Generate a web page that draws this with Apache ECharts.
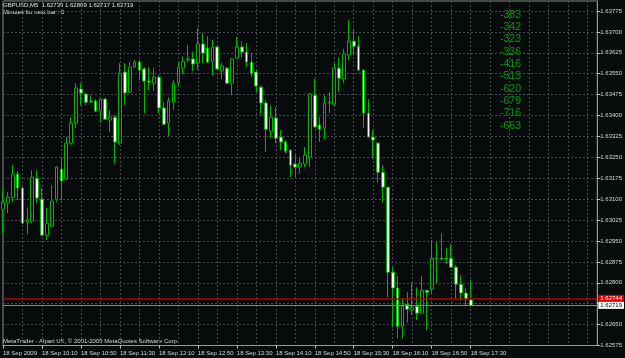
<!DOCTYPE html>
<html><head><meta charset="utf-8">
<script src="https://cdn.jsdelivr.net/npm/echarts@6/dist/echarts.min.js"></script>
<style>html,body{margin:0;padding:0;background:#070b0b}#c{width:625px;height:358px}</style>
</head><body><div id="c"></div>
<script>
const symbol = 'GBPUSD', timeframe = 'M5';
const times = ['09:30','09:35','09:40','09:45','09:50','09:55',
'10:00','10:05','10:10','10:15','10:20','10:25','10:30','10:35','10:40','10:45','10:50','10:55',
'11:00','11:05','11:10','11:15','11:20','11:25','11:30','11:35','11:40','11:45','11:50','11:55',
'12:00','12:05','12:10','12:15','12:20','12:25','12:30','12:35','12:40','12:45','12:50','12:55',
'13:00','13:05','13:10','13:15','13:20','13:25','13:30','13:35','13:40','13:45','13:50','13:55',
'14:00','14:05','14:10','14:15','14:20','14:25','14:30','14:35','14:40','14:45','14:50','14:55',
'15:00','15:05','15:10','15:15','15:20','15:25','15:30','15:35','15:40','15:45','15:50','15:55',
'16:00','16:05','16:10','16:15','16:20','16:25','16:30','16:35','16:40','16:45','16:50','16:55',
'17:00','17:05','17:10','17:15','17:20','17:25','17:30'];
const opens = [1.63064,1.63086,1.63107,1.63190,1.63140,1.63017,1.63021,1.63175,1.63100,1.62971,
1.63003,1.63100,1.63208,1.63172,1.63301,1.63373,1.63495,1.63477,1.63452,1.63452,
1.63416,1.63459,1.63384,1.63394,1.63301,1.63556,1.63484,1.63574,1.63592,1.63567,
1.63524,1.63516,1.63538,1.63427,1.63373,1.63448,1.63516,1.63570,1.63599,1.63603,
1.63588,1.63657,1.63642,1.63592,1.63646,1.63560,1.63570,1.63516,1.63606,1.63646,
1.63628,1.63592,1.63556,1.63502,1.63445,1.63344,1.63391,1.63323,1.63305,1.63276,
1.63226,1.63215,1.63226,1.63251,1.63473,1.63366,1.63355,1.63445,1.63441,1.63570,
1.63531,1.63617,1.63667,1.63649,1.63563,1.63409,1.63323,1.63301,1.63197,1.63143,
1.62838,1.62781,1.62644,1.62723,1.62702,1.62716,1.62691,1.62773,1.62777,1.62888,
1.62888,1.62888,1.62888,1.62856,1.62795,1.62763,1.62739];
const highs = [1.63132,1.63125,1.63222,1.63201,1.63143,1.63071,1.63204,1.63204,1.63140,1.63068,
1.63150,1.63219,1.63251,1.63323,1.63394,1.63516,1.63516,1.63481,1.63473,1.63459,
1.63463,1.63463,1.63420,1.63402,1.63588,1.63588,1.63592,1.63599,1.63599,1.63574,
1.63574,1.63570,1.63545,1.63448,1.63466,1.63527,1.63592,1.63613,1.63653,1.63628,
1.63714,1.63696,1.63685,1.63671,1.63653,1.63588,1.63574,1.63606,1.63682,1.63667,
1.63660,1.63624,1.63563,1.63506,1.63455,1.63437,1.63430,1.63348,1.63312,1.63280,
1.63258,1.63247,1.63287,1.63481,1.63531,1.63394,1.63473,1.63484,1.63588,1.63610,
1.63639,1.63743,1.63710,1.63685,1.63563,1.63459,1.63348,1.63305,1.63222,1.63143,
1.62856,1.62824,1.62745,1.62766,1.62802,1.62784,1.62824,1.62773,1.62953,1.62946,
1.62978,1.62924,1.62938,1.62863,1.62827,1.62781,1.62809];
const lows = [1.62978,1.63050,1.63089,1.63096,1.63010,1.62974,1.63014,1.63086,1.62971,1.62953,
1.63000,1.63089,1.63096,1.63168,1.63294,1.63355,1.63437,1.63437,1.63445,1.63412,
1.63376,1.63384,1.63341,1.63229,1.63294,1.63437,1.63481,1.63570,1.63527,1.63409,
1.63491,1.63488,1.63409,1.63366,1.63326,1.63420,1.63502,1.63549,1.63592,1.63560,
1.63563,1.63588,1.63588,1.63545,1.63563,1.63531,1.63513,1.63473,1.63603,1.63610,
1.63574,1.63538,1.63484,1.63405,1.63269,1.63319,1.63301,1.63276,1.63265,1.63179,
1.63179,1.63193,1.63215,1.63215,1.63355,1.63305,1.63315,1.63409,1.63434,1.63484,
1.63516,1.63599,1.63617,1.63560,1.63355,1.63319,1.63247,1.63161,1.63089,1.62748,
1.62641,1.62601,1.62601,1.62658,1.62684,1.62666,1.62691,1.62630,1.62763,1.62798,
1.62881,1.62867,1.62856,1.62741,1.62737,1.62716,1.62717];
const closes = [1.63089,1.63107,1.63190,1.63140,1.63014,1.63028,1.63179,1.63104,1.62971,1.63014,
1.63093,1.63215,1.63165,1.63301,1.63373,1.63499,1.63481,1.63448,1.63449,1.63416,
1.63459,1.63387,1.63394,1.63305,1.63552,1.63481,1.63574,1.63592,1.63563,1.63524,
1.63520,1.63538,1.63427,1.63369,1.63452,1.63516,1.63574,1.63595,1.63603,1.63585,
1.63657,1.63624,1.63592,1.63646,1.63567,1.63578,1.63516,1.63603,1.63646,1.63628,
1.63592,1.63552,1.63506,1.63445,1.63351,1.63394,1.63319,1.63305,1.63272,1.63222,
1.63215,1.63229,1.63258,1.63477,1.63359,1.63351,1.63445,1.63448,1.63570,1.63534,
1.63621,1.63667,1.63649,1.63563,1.63409,1.63323,1.63312,1.63197,1.63143,1.62838,
1.62781,1.62644,1.62716,1.62705,1.62712,1.62691,1.62773,1.62766,1.62888,1.62885,
1.62886,1.62885,1.62856,1.62795,1.62763,1.62741,1.62719];
const xTickLabels = ['18 Sep 2009','18 Sep 10:10','18 Sep 10:50','18 Sep 11:30','18 Sep 12:10',
'18 Sep 12:50','18 Sep 13:30','18 Sep 14:10','18 Sep 14:50','18 Sep 15:30','18 Sep 16:10',
'18 Sep 16:50','18 Sep 17:30'];
const yMin = 1.62575, yMax = 1.63811, yStep = 0.00075;
const redLevel = 1.62744;
const sideValues = ['-383','-342','-323','-336','-416','-513','-620','-679','-716','-663'];
const infoLine = 'Minutes for next bar : 0';
const footer = 'MetaTrader - Alpari UK, \u00a9 2001-2009 MetaQuotes Software Corp.';
const totalSlots = 123;

const candles = times.map((t, i) => [opens[i], closes[i], lows[i], highs[i]]);
const last = candles.length - 1;
const header = symbol + ',' + timeframe + '  ' +
  [opens[last], highs[last], lows[last], closes[last]].map(v => v.toFixed(5)).join(' ');
const FONT = '"Liberation Sans", Arial, sans-serif';
const GREEN = '#00b400';

const graphic = [
  {type:'text', left:3, top:2, style:{text:header, fill:'#e6e6e6', font:'6px ' + FONT}},
  {type:'text', left:3, top:9.5, style:{text:infoLine, fill:'#e6e6e6', font:'6px ' + FONT}},
  {type:'text', left:3, top:338.5, style:{text:footer, fill:'#d8d8d8', font:'6px ' + FONT}}
];
sideValues.forEach((s, i) => {
  graphic.push({type:'text', x:500, y:15 + 12.3 * i,
    style:{text:s, fill:'#0c960c', font:'10.5px ' + FONT, verticalAlign:'middle'}});
});

const chart = echarts.init(document.getElementById('c'), null, {renderer:'canvas'});
chart.setOption({
  animation:false,
  backgroundColor:'#070b0b',
  grid:{left:1, right:22, top:1, bottom:12.5, show:true, borderColor:'#8a8a8a', borderWidth:1},
  xAxis:{
    type:'category', data:times, boundaryGap:false, max:totalSlots - 1,
    axisLine:{show:true, lineStyle:{color:'#9a9a9a'}},
    axisTick:{show:true, length:3, interval:(i) => i % 8 === 0 && i < times.length, lineStyle:{color:'#c0c0c0'}},
    axisLabel:{show:true, interval:(i) => i % 8 === 0 && i < times.length,
      formatter:(v, i) => xTickLabels[i / 8] || '', align:'left', margin:5,
      fontSize:6, color:'#d8d8d8', fontFamily:FONT},
    splitLine:{show:true, interval:(i) => i % 4 === 0 && i > 0,
      lineStyle:{color:'#454a50', type:[2,2], width:1}}
  },
  yAxis:{
    type:'value', position:'right', min:yMin, max:yMax, interval:yStep,
    axisLine:{show:true, lineStyle:{color:'#9a9a9a'}},
    axisTick:{show:true, length:3, lineStyle:{color:'#c0c0c0'}},
    axisLabel:{showMaxLabel:false, margin:3, fontSize:6, color:'#d8d8d8', fontFamily:FONT,
      formatter:(v) => v.toFixed(5)},
    splitLine:{show:true, lineStyle:{color:'#454a50', type:[2,2]}}
  },
  series:[{
    type:'candlestick', data:candles, barWidth:3.2,
    itemStyle:{color:'#000000', color0:'#ffffff', borderColor:GREEN, borderColor0:GREEN,
      borderColorDoji:'#00d000', borderWidth:1},
    markLine:{symbol:'none', silent:true, animation:false, precision:5, data:[
      {yAxis:redLevel, lineStyle:{color:'#b80000', width:1.5, type:'solid'},
        label:{show:true, position:'end', distance:1, formatter:(p) => Number(p.value).toFixed(5),
          backgroundColor:'#e00000', color:'#ffffff', fontSize:6, fontFamily:FONT, padding:[1,2,0,2]}},
      {yAxis:closes[last], lineStyle:{color:'#778899', width:1, type:'solid'},
        label:{show:true, position:'end', distance:1, formatter:(p) => Number(p.value).toFixed(5),
          backgroundColor:'#ffffff', color:'#000000', fontSize:6, fontFamily:FONT, padding:[1,2,0,2]}}
    ]}
  }],
  graphic:graphic
});
</script></body></html>
